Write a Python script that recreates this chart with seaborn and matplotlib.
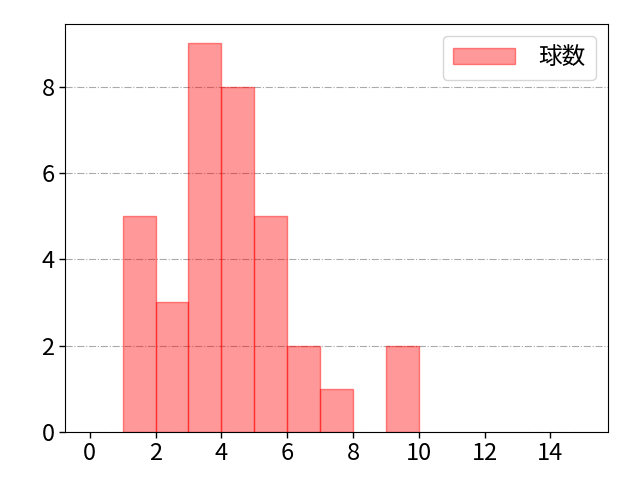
import matplotlib
matplotlib.use("Agg")
import matplotlib.pyplot as plt
import seaborn as sns
import numpy as np
import pandas as pd

bin_left = [1, 2, 3, 4, 5, 6, 7, 9]
counts = [5, 3, 9, 8, 5, 2, 1, 2]
bin_edges = list(range(0, 16))
x_ticks = [0, 2, 4, 6, 8, 10, 12, 14]
y_ticks = [0, 2, 4, 6, 8]
label = "球数"

sns.set_style("white")
plt.rcParams['font.family'] = ['Noto Sans CJK JP', 'DejaVu Sans']
plt.rcParams['text.color'] = 'black'
plt.rcParams['xtick.color'] = 'black'
plt.rcParams['ytick.color'] = 'black'
plt.rcParams['xtick.labelcolor'] = 'black'
plt.rcParams['ytick.labelcolor'] = 'black'

df = pd.DataFrame({"x": bin_left, "w": counts})
fig, ax = plt.subplots(figsize=(6.4, 4.8), dpi=100)
sns.histplot(data=df, x="x", weights="w", bins=bin_edges, ax=ax,
             color=(1, 0, 0, 0.4), edgecolor=(1, 0, 0, 0.5), linewidth=1,
             alpha=None, label=label)
handle = None
for p in ax.patches:
    p.set_facecolor((1, 0, 0, 0.4))
    p.set_edgecolor((1, 0, 0, 0.45))
    if p.get_height() == 0:
        p.set_visible(False)
    elif handle is None:
        handle = p
ax.set_xlim(-0.75, 15.75)
ax.set_ylim(0, 9.45)
ax.set_xticks(x_ticks)
ax.set_yticks(y_ticks)
ax.grid(axis='y', linestyle='-.', color='#aaaaaa', linewidth=0.8)
ax.set_axisbelow(True)
ax.set_xlabel("")
ax.set_ylabel("")
ax.tick_params(axis='both', labelsize=17, length=4, width=1, direction='out',
               bottom=True, left=True, colors='black', labelcolor='black')
for s in ax.spines.values():
    s.set_visible(True)
    s.set_color('black')
    s.set_linewidth(0.8)
leg = ax.legend(handles=[handle], labels=[label], loc='upper right', fontsize=17,
                handlelength=2.6, handletextpad=1.0, borderpad=0.45)
for t in leg.get_texts():
    t.set_color('black')
fig.subplots_adjust(left=65/640, right=608/640, top=1-24/480, bottom=1-432/480)
fig.savefig("out.png", dpi=100)
